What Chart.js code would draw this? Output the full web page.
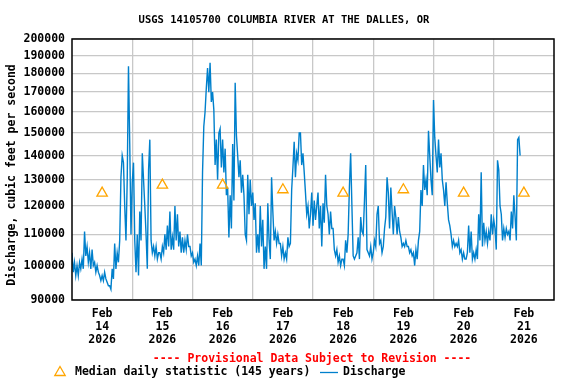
<!DOCTYPE html>
<html>
<head>
<meta charset="utf-8">
<script src="https://cdn.jsdelivr.net/npm/chart.js@4.4.1/dist/chart.umd.min.js"></script>
<style>
  html, body { margin: 0; padding: 0; background: #fff; }
  canvas { display: block; }
</style>
</head>
<body>
<canvas id="c" width="576" height="384"></canvas>
<script>
// ---- Data ----
const titleText = 'USGS 14105700 COLUMBIA RIVER AT THE DALLES, OR';
const yAxisTitle = 'Discharge, cubic feet per second';
const provisionalText = '---- Provisional Data Subject to Revision ----';
const medianLabel = 'Median daily statistic (145 years)';
const dischargeLabel = 'Discharge';

const dayMonth = 'Feb';
const dayYear = '2026';
const dayNumbers = ['14', '15', '16', '17', '18', '19', '20', '21'];

const yTickValues = [90000, 100000, 110000, 120000, 130000, 140000, 150000,
                     160000, 170000, 180000, 190000, 200000];

// median daily statistic, one per day (at noon)
const medianValues = [124800, 127900, 127900, 126100, 124800, 126100, 124800, 124800];

// discharge, every 30 minutes from Feb 14 00:00
const feb14 = [104000, 98000, 101000, 97000, 100000, 97000, 101000, 99000, 102000, 99000,
  111000, 103000, 106000, 101000, 104000, 99000, 105000, 100000, 101000, 98000,
  100000, 98000, 97000, 95500, 97000, 95500, 98000, 96000, 95000, 94000,
  94000, 93000, 99000, 96000, 107000, 99000, 104000, 101000, 108000, 131000,
  140000, 137000, 120000, 108000, 130000, 184000, 145000, 110000];
const feb15 = [129000, 137000, 108000, 98000, 110000, 97000, 118000, 108000, 141000, 130000,
  120000, 110000, 99000, 134000, 147000, 108000, 104000, 106000, 103000, 106000,
  102000, 104000, 104000, 102000, 106000, 104000, 110000, 105000, 113000, 106000,
  118000, 105000, 109000, 105000, 120000, 108000, 117000, 106000, 111000, 104000,
  109000, 104000, 108000, 105000, 110000, 106000, 106000, 103000];
const feb16 = [104000, 101000, 102000, 100000, 103000, 100000, 107000, 100000, 133000, 153000,
  160000, 172000, 183000, 170000, 186000, 165000, 170000, 161000, 136000, 147000,
  130000, 150000, 152000, 135000, 147000, 133000, 143000, 124000, 127000, 109000,
  124000, 112000, 145000, 122000, 175000, 149000, 140000, 131000, 138000, 125000,
  132000, 124000, 110000, 108000, 132000, 117000, 130000, 120000];
const feb17 = [125000, 115000, 121000, 104000, 110000, 104000, 120000, 106000, 115000, 99000,
  106000, 99000, 121000, 108000, 102000, 131000, 118000, 108000, 111000, 107000,
  110000, 107000, 107000, 103000, 106000, 102000, 104000, 102000, 109000, 106000,
  107000, 126000, 135000, 146000, 131000, 141000, 138000, 150000, 150000, 136000,
  141000, 133000, 125000, 117000, 120000, 112000, 117000, 125000];
const feb18 = [113000, 122000, 115000, 120000, 125000, 112000, 120000, 106000, 121000, 114000,
  132000, 120000, 117000, 110000, 118000, 112000, 112000, 105000, 103000, 105000,
  101000, 103000, 100000, 102000, 102000, 100000, 108000, 104000, 110000, 127000,
  141000, 120000, 103000, 102000, 103000, 104000, 109000, 102000, 116000, 111000,
  110000, 122000, 136000, 105000, 104000, 103000, 106000, 102000];
const feb19 = [104000, 108000, 106000, 117000, 120000, 107000, 108000, 104000, 106000, 112000,
  116000, 131000, 125000, 112000, 127000, 118000, 110000, 120000, 116000, 110000,
  116000, 111000, 109000, 106000, 107000, 106000, 108000, 106000, 106000, 104000,
  105000, 103000, 104000, 100000, 105000, 102000, 108000, 111000, 126000, 120000,
  136000, 126000, 130000, 124000, 151000, 140000, 130000, 124000];
const feb20 = [166000, 148000, 140000, 133000, 147000, 135000, 141000, 130000, 126000, 120000,
  129000, 121000, 115000, 113000, 110000, 106000, 108000, 106000, 107000, 106000,
  108000, 104000, 105000, 102000, 104000, 102000, 102000, 104000, 113000, 104000,
  111000, 102000, 104000, 102000, 105000, 102000, 117000, 108000, 133000, 106000,
  114000, 108000, 111000, 107000, 111000, 108000, 117000, 110000];
const feb21 = [115000, 112000, 105000, 138000, 134000, 120000, 117000, 108000, 112000, 109000,
  112000, 110000, 111000, 108000, 118000, 112000, 124000, 116000, 108000, 147000,
  148000, 140000];

// ---- Build datasets ----
const HOURS_PER_SAMPLE = 0.5;
const allDischarge = [].concat(feb14, feb15, feb16, feb17, feb18, feb19, feb20, feb21);
const dischargePoints = allDischarge.map((v, i) => ({ x: i * HOURS_PER_SAMPLE, y: v }));
const medianPoints = medianValues.map((v, i) => ({ x: 12 + 24 * i, y: v }));

const MONO = "'DejaVu Sans Mono', 'Liberation Mono', monospace";
const ORANGE = '#ffa500';
const BLUE = '#0080cc';

const decorPlugin = {
  id: 'decor',
  afterDraw(chart) {
    const ctx = chart.ctx;
    const a = chart.chartArea;
    ctx.save();
    // plot border
    ctx.strokeStyle = '#000';
    ctx.lineWidth = 1.5;
    ctx.strokeRect(a.left, a.top, a.right - a.left, a.bottom - a.top);

    // title
    ctx.fillStyle = '#000';
    ctx.font = 'bold 10.5px ' + MONO;
    ctx.textAlign = 'center';
    ctx.textBaseline = 'middle';
    ctx.fillText(titleText, 284, 20);

    // y-axis title
    ctx.save();
    ctx.translate(12, 175);
    ctx.rotate(-Math.PI / 2);
    ctx.font = 'bold 11.5px ' + MONO;
    ctx.fillText(yAxisTitle, 0, 0);
    ctx.restore();

    // provisional
    ctx.font = 'bold 11.5px ' + MONO;
    ctx.fillStyle = '#ff0000';
    ctx.fillText(provisionalText, 312, 359.5);

    // legend
    const ly = 372.5;
    ctx.strokeStyle = ORANGE;
    ctx.lineWidth = 1.3;
    ctx.beginPath();
    ctx.moveTo(60, ly - 6);
    ctx.lineTo(65.2, ly + 3);
    ctx.lineTo(54.8, ly + 3);
    ctx.closePath();
    ctx.stroke();
    ctx.fillStyle = '#000';
    ctx.textAlign = 'left';
    ctx.fillText(medianLabel, 75, ly);
    ctx.strokeStyle = BLUE;
    ctx.lineWidth = 1.3;
    ctx.beginPath();
    ctx.moveTo(320, ly);
    ctx.lineTo(338, ly);
    ctx.stroke();
    ctx.fillText(dischargeLabel, 343, ly);
    ctx.restore();
  }
};

new Chart(document.getElementById('c'), {
  type: 'line',
  data: {
    datasets: [
      {
        label: medianLabel,
        data: medianPoints,
        showLine: false,
        pointStyle: 'triangle',
        pointRadius: 6,
        pointBorderColor: ORANGE,
        pointBackgroundColor: 'rgba(0,0,0,0)',
        pointBorderWidth: 1.3,
        borderColor: ORANGE
      },
      {
        label: dischargeLabel,
        data: dischargePoints,
        borderColor: BLUE,
        borderWidth: 1.4,
        pointRadius: 0,
        tension: 0,
        fill: false
      }
    ]
  },
  options: {
    responsive: false,
    animation: false,
    events: [],
    layout: { padding: { left: 0, top: 39, right: 22, bottom: 0 } },
    plugins: { legend: { display: false }, title: { display: false }, tooltip: { enabled: false } },
    scales: {
      x: {
        type: 'linear',
        min: 0,
        max: 192,
        afterBuildTicks(axis) {
          const t = [];
          for (let h = 0; h <= 192; h += 12) t.push({ value: h });
          axis.ticks = t;
        },
        afterFit(scale) { scale.height = 84; },
        border: { display: false },
        grid: {
          drawTicks: false,
          color(ctx) {
            const v = ctx.tick ? ctx.tick.value : 0;
            return (v % 24 === 0 && v > 0 && v < 192) ? '#c8c8c8' : 'rgba(0,0,0,0)';
          },
          lineWidth: 1.3
        },
        ticks: {
          autoSkip: false,
          maxRotation: 0,
          padding: 8,
          color: '#000',
          font: { family: MONO, size: 11.5, weight: 'bold', lineHeight: 1.13 },
          callback(value) {
            if (value % 24 !== 12) return '';
            const idx = (value - 12) / 24;
            return [dayMonth, dayNumbers[idx], dayYear];
          }
        }
      },
      y: {
        type: 'logarithmic',
        min: 90000,
        max: 200000,
        afterBuildTicks(axis) {
          axis.ticks = yTickValues.map(v => ({ value: v }));
        },
        afterFit(scale) { scale.width = 72; },
        border: { display: false },
        grid: { drawTicks: false, color: '#c8c8c8', lineWidth: 1.3 },
        ticks: {
          padding: 7,
          color: '#000',
          font: { family: MONO, size: 11.5, weight: 'bold' },
          callback(value) { return String(value); }
        }
      }
    }
  },
  plugins: [decorPlugin]
});
</script>
</body>
</html>
